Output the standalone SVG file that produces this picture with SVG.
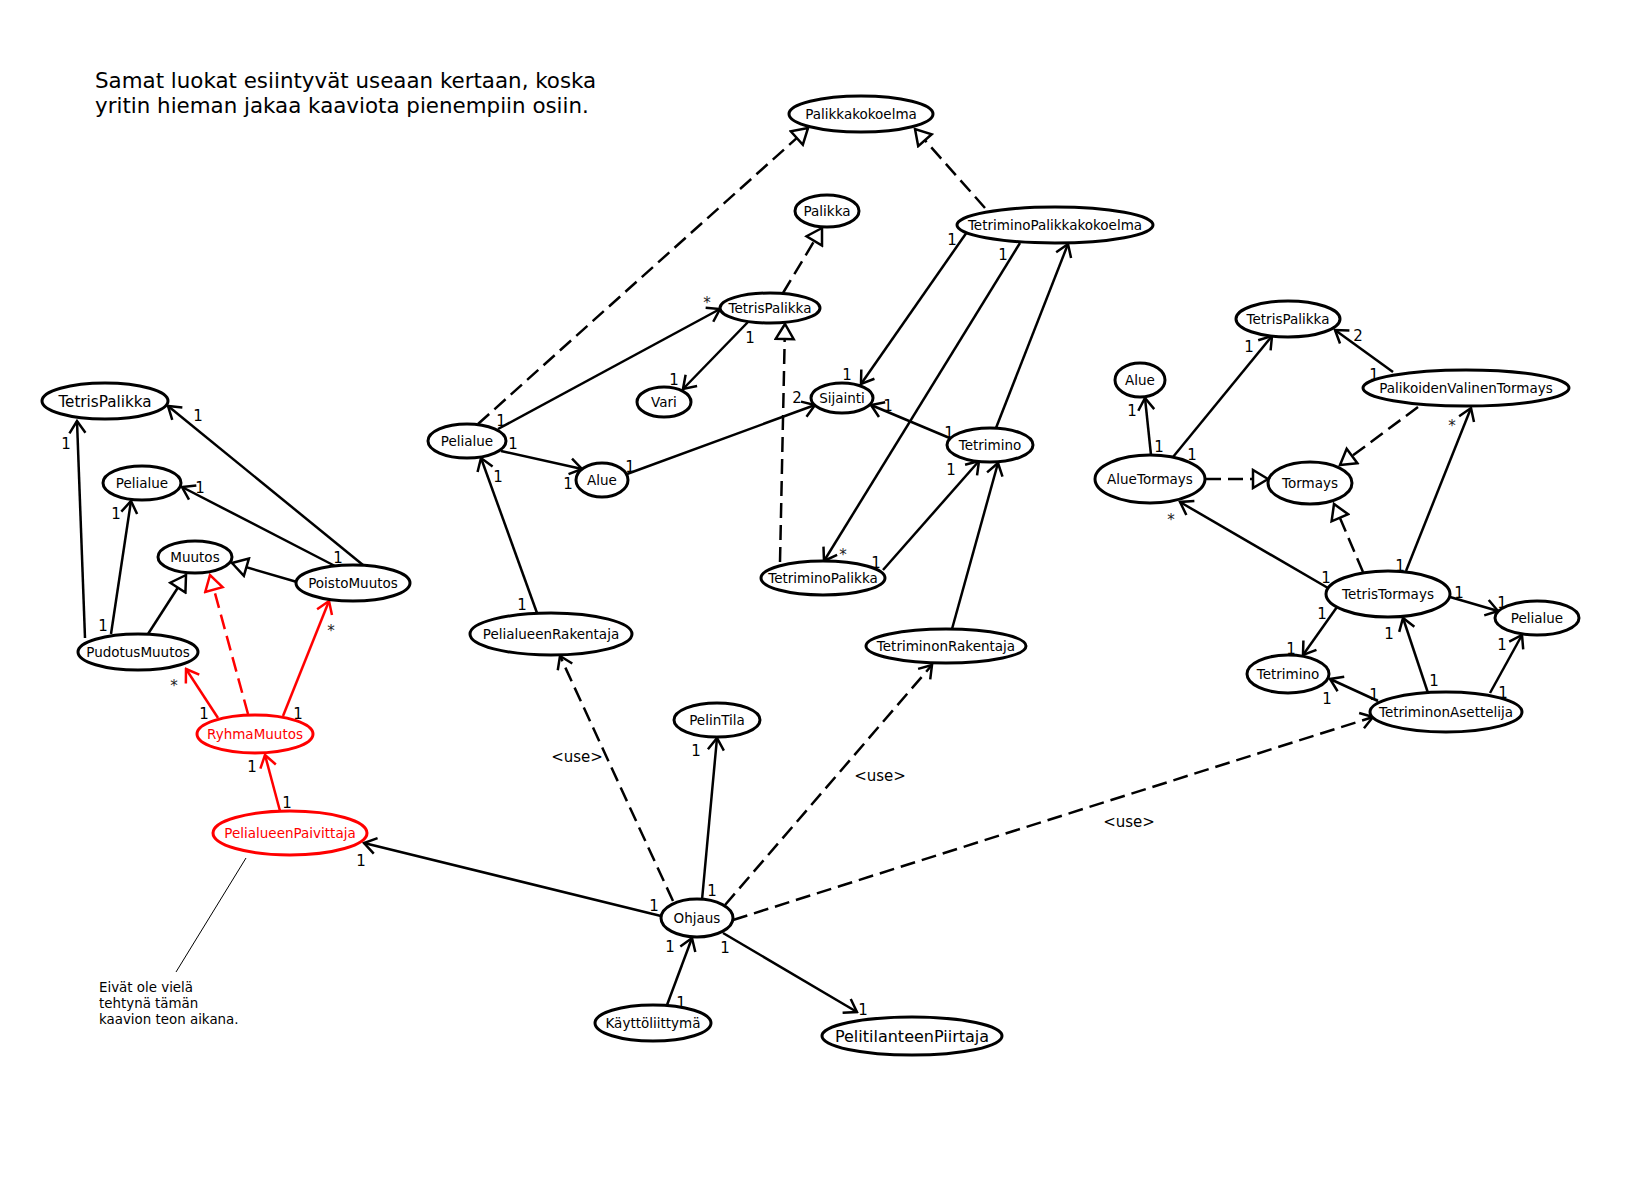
<svg xmlns="http://www.w3.org/2000/svg" width="1628" height="1177" viewBox="0 0 1628 1177">
<style>
.n{fill:#fff;stroke:#000;stroke-width:3}
.nr{fill:#fff;stroke:#f00;stroke-width:3}
text{font-family:"DejaVu Sans","Liberation Sans",sans-serif;fill:#000}
.t{font-size:13.5px;text-anchor:middle}
.tr{font-size:13.5px;text-anchor:middle;fill:#f00}
.e{stroke:#000;stroke-width:2.5;fill:none}
.er{stroke:#f00;stroke-width:2.5;fill:none}
.d{stroke-dasharray:15 7}
.m{font-size:15px;text-anchor:middle}
.s{font-size:15px;text-anchor:middle;fill:#222}
.a{marker-end:url(#a)}
.ar{marker-end:url(#ar)}
.g{marker-end:url(#g)}
.gr{marker-end:url(#gr)}
</style>
<defs>
<marker id="a" viewBox="-14 -10 16 20" refX="0" refY="0" markerWidth="16" markerHeight="20" orient="auto" markerUnits="userSpaceOnUse"><path d="M-12,-8 L0,0 L-12,8" fill="none" stroke="#000" stroke-width="2.5"/></marker>
<marker id="ar" viewBox="-14 -10 16 20" refX="0" refY="0" markerWidth="16" markerHeight="20" orient="auto" markerUnits="userSpaceOnUse"><path d="M-12,-8 L0,0 L-12,8" fill="none" stroke="#f00" stroke-width="2.5"/></marker>
<marker id="g" viewBox="-17 -11 19 22" refX="0" refY="0" markerWidth="19" markerHeight="22" orient="auto" markerUnits="userSpaceOnUse"><path d="M0,0 L-15,-9 L-15,9 Z" fill="#fff" stroke="#000" stroke-width="2.5"/></marker>
<marker id="gr" viewBox="-17 -11 19 22" refX="0" refY="0" markerWidth="19" markerHeight="22" orient="auto" markerUnits="userSpaceOnUse"><path d="M0,0 L-15,-9 L-15,9 Z" fill="#fff" stroke="#f00" stroke-width="2.5"/></marker>
</defs>
<rect width="1628" height="1177" fill="#fff"/>
<text x="95" y="88" font-size="21.4">Samat luokat esiintyvät useaan kertaan, koska</text>
<text x="95" y="113" font-size="21.4">yritin hieman jakaa kaaviota pienempiin osiin.</text>

<g id="connectors">
<line class="e a" x1="85" y1="638" x2="77" y2="421"/>
<line class="e a" x1="111" y1="634" x2="131" y2="501"/>
<line class="e g" x1="148" y1="634" x2="186" y2="575"/>
<line class="e g" x1="297" y1="582" x2="232" y2="563"/>
<line class="e a" x1="335" y1="566" x2="182" y2="487"/>
<line class="e a" x1="363" y1="565" x2="168" y2="406"/>
<line class="er ar" x1="218" y1="718" x2="186" y2="669"/>
<line class="er d gr" x1="248" y1="714" x2="210" y2="575"/>
<line class="er ar" x1="283" y1="716" x2="329" y2="601"/>
<line class="er ar" x1="280" y1="811" x2="265" y2="755"/>
<line class="e a" x1="661" y1="916" x2="364" y2="843"/>
<line x1="246" y1="858" x2="176" y2="972" stroke="#000" stroke-width="1"/>

<line class="e d g" x1="478" y1="424" x2="808" y2="128"/>
<line class="e d g" x1="985" y1="208" x2="915" y2="129"/>
<line class="e d g" x1="783" y1="293" x2="822" y2="228"/>
<line class="e d g" x1="780" y1="562" x2="785" y2="324"/>
<line class="e a" x1="498" y1="429" x2="720" y2="309"/>
<line class="e a" x1="748" y1="322" x2="683" y2="389"/>
<line class="e a" x1="501" y1="451" x2="582" y2="469"/>
<line class="e a" x1="627" y1="474" x2="815" y2="405"/>
<line class="e a" x1="537" y1="613" x2="481" y2="458"/>
<line class="e a" x1="967" y1="232" x2="861" y2="384"/>
<line class="e a" x1="1020" y1="243" x2="824" y2="561"/>
<line class="e a" x1="996" y1="428" x2="1068" y2="244"/>
<line class="e a" x1="952" y1="439" x2="871" y2="405"/>
<line class="e a" x1="883" y1="570" x2="979" y2="461"/>
<line class="e a" x1="952" y1="629" x2="998" y2="463"/>
<line class="e d a" x1="673" y1="901" x2="560" y2="656"/>
<line class="e a" x1="702" y1="900" x2="717" y2="738"/>
<line class="e d a" x1="725" y1="905" x2="932" y2="665"/>
<line class="e d a" x1="733" y1="920" x2="1373" y2="717"/>
<line class="e a" x1="667" y1="1005" x2="692" y2="938"/>
<line class="e a" x1="723" y1="933" x2="857" y2="1012"/>

<line class="e a" x1="1151" y1="455" x2="1145" y2="398"/>
<line class="e a" x1="1173" y1="457" x2="1272" y2="336"/>
<line class="e a" x1="1393" y1="372" x2="1335" y2="330"/>
<line class="e d g" x1="1206" y1="479" x2="1268" y2="479"/>
<line class="e d g" x1="1418" y1="407" x2="1340" y2="465"/>
<line class="e a" x1="1406" y1="571" x2="1471" y2="408"/>
<line class="e a" x1="1328" y1="588" x2="1180" y2="502"/>
<line class="e d g" x1="1363" y1="572" x2="1334" y2="504"/>
<line class="e a" x1="1450" y1="597" x2="1498" y2="611"/>
<line class="e a" x1="1337" y1="607" x2="1303" y2="655"/>
<line class="e a" x1="1428" y1="693" x2="1403" y2="618"/>
<line class="e a" x1="1490" y1="693" x2="1522" y2="635"/>
<line class="e a" x1="1378" y1="701" x2="1330" y2="679"/>
</g>

<g id="n-tetrispalikka-l"><ellipse class="n" cx="105" cy="401" rx="63" ry="18"/><text x="105" y="406.5" font-size="15.2" text-anchor="middle">TetrisPalikka</text></g>
<g id="n-pelialue-l"><ellipse class="n" cx="142" cy="483" rx="39" ry="17"/><text class="t" x="142" y="487.5">Pelialue</text></g>
<g id="n-muutos"><ellipse class="n" cx="195" cy="557" rx="37" ry="16"/><text class="t" x="195" y="561.5">Muutos</text></g>
<g id="n-poistomuutos"><ellipse class="n" cx="353" cy="583" rx="57" ry="18"/><text class="t" x="353" y="587.5">PoistoMuutos</text></g>
<g id="n-pudotusmuutos"><ellipse class="n" cx="138" cy="652" rx="60" ry="18"/><text class="t" x="138" y="656.5">PudotusMuutos</text></g>
<g id="n-ryhmamuutos"><ellipse class="nr" cx="255" cy="734" rx="58" ry="19"/><text class="tr" x="255" y="738.5">RyhmaMuutos</text></g>
<g id="n-pelialueenpaivittaja"><ellipse class="nr" cx="290" cy="833" rx="77" ry="22"/><text class="tr" x="290" y="837.5">PelialueenPaivittaja</text></g>

<g id="n-palikkakokoelma"><ellipse class="n" cx="861" cy="114" rx="72" ry="18"/><text class="t" x="861" y="118.5">Palikkakokoelma</text></g>
<g id="n-palikka"><ellipse class="n" cx="827" cy="211" rx="32" ry="16"/><text class="t" x="827" y="215.5">Palikka</text></g>
<g id="n-tetrispalikka-m"><ellipse class="n" cx="770" cy="308" rx="50" ry="15"/><text class="t" x="770" y="312.5">TetrisPalikka</text></g>
<g id="n-vari"><ellipse class="n" cx="664" cy="402" rx="27" ry="15"/><text class="t" x="664" y="406.5">Vari</text></g>
<g id="n-sijainti"><ellipse class="n" cx="842" cy="398" rx="31" ry="15"/><text class="t" x="842" y="402.5">Sijainti</text></g>
<g id="n-tetriminopalikkakokoelma"><ellipse class="n" cx="1055" cy="225" rx="98" ry="18"/><text class="t" x="1055" y="229.5">TetriminoPalikkakokoelma</text></g>
<g id="n-tetrimino-m"><ellipse class="n" cx="990" cy="445" rx="43" ry="17"/><text class="t" x="990" y="449.5">Tetrimino</text></g>
<g id="n-pelialue-m"><ellipse class="n" cx="467" cy="441" rx="39" ry="17"/><text class="t" x="467" y="445.5">Pelialue</text></g>
<g id="n-alue-m"><ellipse class="n" cx="602" cy="480" rx="26" ry="17"/><text class="t" x="602" y="484.5">Alue</text></g>
<g id="n-tetriminopalikka"><ellipse class="n" cx="823" cy="578" rx="62" ry="17"/><text class="t" x="823" y="582.5">TetriminoPalikka</text></g>
<g id="n-pelialueenrakentaja"><ellipse class="n" cx="551" cy="634" rx="81" ry="21"/><text class="t" x="551" y="638.5">PelialueenRakentaja</text></g>
<g id="n-tetriminonrakentaja"><ellipse class="n" cx="946" cy="646" rx="80" ry="17"/><text class="t" x="946" y="650.5">TetriminonRakentaja</text></g>
<g id="n-pelintila"><ellipse class="n" cx="717" cy="720" rx="43" ry="17"/><text class="t" x="717" y="724.5">PelinTila</text></g>
<g id="n-ohjaus"><ellipse class="n" cx="697" cy="918" rx="36" ry="19"/><text class="t" x="697" y="922.5">Ohjaus</text></g>
<g id="n-kayttoliittyma"><ellipse class="n" cx="653" cy="1023" rx="58" ry="18"/><text class="t" x="653" y="1027.5">Käyttöliittymä</text></g>
<g id="n-pelitilanteenpiirtaja"><ellipse class="n" cx="912" cy="1036" rx="90" ry="19"/><text x="912" y="1041.5" font-size="16" text-anchor="middle">PelitilanteenPiirtaja</text></g>

<g id="n-tetrispalikka-r"><ellipse class="n" cx="1288" cy="319" rx="52" ry="18"/><text class="t" x="1288" y="323.5">TetrisPalikka</text></g>
<g id="n-alue-r"><ellipse class="n" cx="1140" cy="380" rx="25" ry="17"/><text class="t" x="1140" y="384.5">Alue</text></g>
<g id="n-palikoidenvalinentormays"><ellipse class="n" cx="1466" cy="388" rx="103" ry="18"/><text class="t" x="1466" y="392.5">PalikoidenValinenTormays</text></g>
<g id="n-aluetormays"><ellipse class="n" cx="1150" cy="479" rx="55" ry="24"/><text class="t" x="1150" y="483.5">AlueTormays</text></g>
<g id="n-tormays"><ellipse class="n" cx="1310" cy="483" rx="42" ry="21"/><text class="t" x="1310" y="487.5">Tormays</text></g>
<g id="n-tetristormays"><ellipse class="n" cx="1388" cy="594" rx="62" ry="23"/><text class="t" x="1388" y="598.5">TetrisTormays</text></g>
<g id="n-pelialue-r"><ellipse class="n" cx="1537" cy="618" rx="42" ry="17"/><text class="t" x="1537" y="622.5">Pelialue</text></g>
<g id="n-tetrimino-r"><ellipse class="n" cx="1288" cy="674" rx="41" ry="19"/><text class="t" x="1288" y="678.5">Tetrimino</text></g>
<g id="n-tetriminonasettelija"><ellipse class="n" cx="1446" cy="712" rx="76" ry="20"/><text class="t" x="1446" y="716.5">TetriminonAsettelija</text></g>

<g id="note"><text font-size="13.4" x="99" y="992">Eivät ole vielä</text><text font-size="13.4" x="99" y="1008">tehtynä tämän</text><text font-size="13.4" x="99" y="1024">kaavion teon aikana.</text></g>

<g id="labels">
<text class="m" x="66" y="449">1</text>
<text class="m" x="103" y="631">1</text>
<text class="m" x="116" y="519">1</text>
<text class="m" x="200" y="493">1</text>
<text class="m" x="338" y="563">1</text>
<text class="m" x="198" y="421">1</text>
<text class="m" x="204" y="719">1</text>
<text class="s" x="174" y="691">*</text>
<text class="m" x="298" y="719">1</text>
<text class="s" x="331" y="636">*</text>
<text class="m" x="287" y="808">1</text>
<text class="m" x="252" y="772">1</text>
<text class="m" x="654" y="911">1</text>
<text class="m" x="361" y="866">1</text>

<text class="s" x="707" y="308">*</text>
<text class="m" x="501" y="426">1</text>
<text class="m" x="750" y="343">1</text>
<text class="m" x="674" y="385">1</text>
<text class="m" x="513" y="449">1</text>
<text class="m" x="568" y="489">1</text>
<text class="m" x="630" y="472">1</text>
<text class="m" x="797" y="403">2</text>
<text class="m" x="522" y="610">1</text>
<text class="m" x="498" y="482">1</text>
<text class="m" x="952" y="245">1</text>
<text class="m" x="847" y="380">1</text>
<text class="m" x="1003" y="260">1</text>
<text class="s" x="843" y="560">*</text>
<text class="m" x="888" y="411">1</text>
<text class="m" x="949" y="438">1</text>
<text class="m" x="876" y="568">1</text>
<text class="m" x="951" y="475">1</text>
<text class="m" x="577" y="762">&lt;use&gt;</text>
<text class="m" x="712" y="896">1</text>
<text class="m" x="696" y="756">1</text>
<text class="m" x="880" y="781">&lt;use&gt;</text>
<text class="m" x="1129" y="827">&lt;use&gt;</text>
<text class="m" x="681" y="1008">1</text>
<text class="m" x="670" y="952">1</text>
<text class="m" x="725" y="953">1</text>
<text class="m" x="863" y="1015">1</text>

<text class="m" x="1159" y="452">1</text>
<text class="m" x="1132" y="416">1</text>
<text class="m" x="1192" y="460">1</text>
<text class="m" x="1249" y="352">1</text>
<text class="m" x="1358" y="341">2</text>
<text class="m" x="1374" y="380">1</text>
<text class="s" x="1452" y="431">*</text>
<text class="m" x="1400" y="571">1</text>
<text class="s" x="1171" y="525">*</text>
<text class="m" x="1326" y="583">1</text>
<text class="m" x="1459" y="598">1</text>
<text class="m" x="1502" y="608">1</text>
<text class="m" x="1322" y="619">1</text>
<text class="m" x="1291" y="654">1</text>
<text class="m" x="1434" y="686">1</text>
<text class="m" x="1389" y="639">1</text>
<text class="m" x="1503" y="698">1</text>
<text class="m" x="1502" y="650">1</text>
<text class="m" x="1374" y="700">1</text>
<text class="m" x="1327" y="704">1</text>
</g>
</svg>
